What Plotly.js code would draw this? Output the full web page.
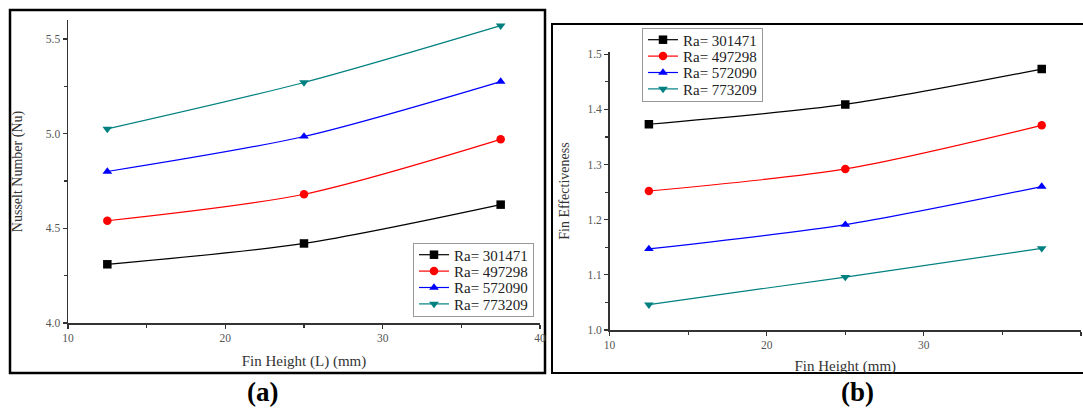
<!DOCTYPE html>
<html>
<head>
<meta charset="utf-8">
<script src="https://cdn.plot.ly/plotly-3.0.1.min.js"></script>
<style>html,body{margin:0;padding:0;background:#fff;}#chart{width:1083px;height:409px;}</style>
</head>
<body>
<div id="chart"></div>
<script>
// Data
const finHeight = [12.5, 25, 37.5];
const seriesNames = ["Ra= 301471", "Ra= 497298", "Ra= 572090", "Ra= 773209"];
const nusselt_301471 = [4.31, 4.42, 4.625];
const nusselt_497298 = [4.54, 4.68, 4.97];
const nusselt_572090 = [4.80, 4.985, 5.275];
const nusselt_773209 = [5.025, 5.27, 5.57];
const eff_301471 = [1.373, 1.409, 1.473];
const eff_497298 = [1.252, 1.292, 1.371];
const eff_572090 = [1.147, 1.191, 1.260];
const eff_773209 = [1.046, 1.096, 1.148];
const xTicks = [10, 20, 30, 40];
const nuTicks = [4.0, 4.5, 5.0, 5.5];
const effTicks = [1.0, 1.1, 1.2, 1.3, 1.4, 1.5];

const colors = ["#000000", "#ff0000", "#0000ff", "#008080"];
const symbols = ["square", "circle", "triangle-up", "triangle-down"];
const nuSeries = [nusselt_301471, nusselt_497298, nusselt_572090, nusselt_773209];
const effSeries = [eff_301471, eff_497298, eff_572090, eff_773209];

const traces = [];
nuSeries.forEach((ys, i) => traces.push({
  x: finHeight, y: ys, name: seriesNames[i], type: "scatter", mode: "lines+markers",
  line: {color: colors[i], width: 1.2, shape: "spline", smoothing: 0.8},
  marker: {color: colors[i], symbol: symbols[i], size: 8.5},
  xaxis: "x", yaxis: "y", legend: "legend"
}));
effSeries.forEach((ys, i) => traces.push({
  x: finHeight, y: ys, name: seriesNames[i], type: "scatter", mode: "lines+markers",
  line: {color: colors[i], width: 1.2, shape: "spline", smoothing: 0.8},
  marker: {color: colors[i], symbol: symbols[i], size: 8.5},
  xaxis: "x2", yaxis: "y2", legend: "legend2"
}));

const W = 1083, H = 409;
const px = v => v / W, py = v => (H - v) / H;
const serif = "'Liberation Serif', 'DejaVu Serif', 'Times New Roman', serif";
const tickFont = {family: serif, size: 11.5, color: "#555"};
const titleFont = {family: serif, size: 14, color: "#333"};
const axCommon = {
  showgrid: false, zeroline: false, showline: true, linecolor: "#333", linewidth: 1.5,
  ticks: "outside", ticklen: 4, tickwidth: 1.2, tickcolor: "#333", tickfont: tickFont,
  mirror: false, fixedrange: true
};

const layout = {
  width: W, height: H,
  margin: {l: 0, r: 0, t: 0, b: 0},
  paper_bgcolor: "#fff", plot_bgcolor: "#fff",
  font: {family: serif},
  xaxis: Object.assign({}, axCommon, {
    domain: [px(68), px(540)], range: [10, 40], tickvals: xTicks,
    minor: {dtick: 5, ticks: "outside", ticklen: 3, tickcolor: "#333"},
    title: {text: "Fin Height (L) (mm)", font: {family: serif, size: 15, color: "#333"}, standoff: 12},
    anchor: "y"
  }),
  yaxis: Object.assign({}, axCommon, {
    domain: [py(323), py(20)], range: [4.0, 5.6], tickvals: nuTicks, tickformat: ".1f",
    minor: {dtick: 0.25, ticks: "outside", ticklen: 3, tickcolor: "#333"},
    title: {text: "Nusselt Number (Nu)", font: titleFont, standoff: 20},
    anchor: "x"
  }),
  xaxis2: Object.assign({}, axCommon, {
    domain: [px(609.6), px(1081)], range: [10, 40], tickvals: xTicks,
    minor: {dtick: 5, ticks: "outside", ticklen: 3, tickcolor: "#333"},
    title: {text: "Fin Height (mm)", font: {family: serif, size: 15, color: "#333"}, standoff: 10},
    anchor: "y2"
  }),
  yaxis2: Object.assign({}, axCommon, {
    domain: [py(330), py(52)], range: [1.0, 1.504], tickvals: effTicks, tickformat: ".1f",
    minor: {dtick: 0.05, ticks: "outside", ticklen: 3, tickcolor: "#333"},
    title: {text: "Fin Effectiveness", font: titleFont, standoff: 14},
    anchor: "x2"
  }),
  legend: {
    x: px(413), y: py(243), xanchor: "left", yanchor: "top",
    bordercolor: "#999", borderwidth: 1, bgcolor: "#fff",
    font: {family: serif, size: 15, color: "#222"}, tracegroupgap: 0
  },
  legend2: {
    x: px(642), y: py(28), xanchor: "left", yanchor: "top",
    bordercolor: "#999", borderwidth: 1, bgcolor: "#fff",
    font: {family: serif, size: 15, color: "#222"}, tracegroupgap: 0
  },
  shapes: [
    {type: "rect", xref: "paper", yref: "paper", x0: px(10), x1: px(545), y0: py(373), y1: py(10),
     line: {color: "#000", width: 2.5}, fillcolor: "rgba(0,0,0,0)", layer: "below"},
    {type: "rect", xref: "paper", yref: "paper", x0: px(552), x1: px(1090), y0: py(373), y1: py(24),
     line: {color: "#000", width: 2}, fillcolor: "rgba(0,0,0,0)", layer: "below"}
  ],
  annotations: [
    {text: "<b>(a)</b>", xref: "paper", yref: "paper", x: px(262), y: py(392), showarrow: false,
     xanchor: "center", yanchor: "middle", font: {family: serif, size: 27, color: "#000"}},
    {text: "<b>(b)</b>", xref: "paper", yref: "paper", x: px(857), y: py(392), showarrow: false,
     xanchor: "center", yanchor: "middle", font: {family: serif, size: 27, color: "#000"}}
  ]
};

const gd = document.getElementById("chart");
function tightenLegends() {
  // tighten legend row spacing to match the original figure
  const rowH = 16.4, padTop = 3.5;
  const legs = gd.querySelectorAll("g.legend, g.legend2");
  legs.forEach(leg => {
    const items = Array.from(leg.querySelectorAll("g.traces"));
    if (items.length < 2) return;
    const parse = el => {
      const t = el.getAttribute("transform") || "";
      const m = /translate\(\s*([-\d.e]+)(?:\s*[, ]\s*([-\d.e]+))?\s*\)/.exec(t);
      return m ? [parseFloat(m[1]), parseFloat(m[2] || 0)] : [0, 0];
    };
    items.forEach((it, i) => {
      const p = parse(it);
      it.setAttribute("transform", "translate(" + p[0] + "," + (padTop + rowH / 2 + i * rowH) + ")");
    });
    leg.querySelectorAll("rect.bg").forEach(bg => {
      bg.setAttribute("height", items.length * rowH + 2 * padTop);
    });
  });
}
Plotly.newPlot(gd, traces, layout, {displayModeBar: false, staticPlot: true}).then(() => {
  tightenLegends();
  gd.on && gd.on("plotly_afterplot", tightenLegends);
  setTimeout(tightenLegends, 50);
  setTimeout(tightenLegends, 300);
});
</script>
</body>
</html>
